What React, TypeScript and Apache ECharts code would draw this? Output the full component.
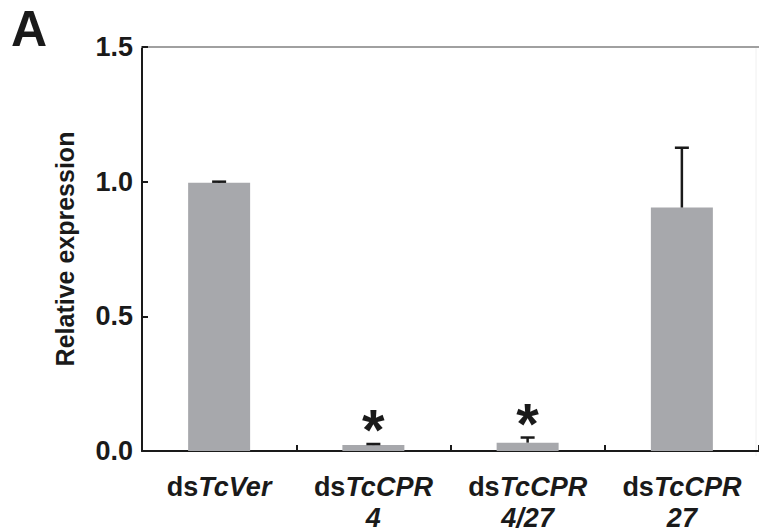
import React, { useEffect, useRef } from "react";
import * as echarts from "echarts";

const genes = ["TcVer", "TcCPR", "TcCPR", "TcCPR"];
const suffixes = ["", "4", "4/27", "27"];
const categories = genes.map((g, i) => "ds" + g + (suffixes[i] ? " " + suffixes[i] : ""));
const means = [0.996, 0.022, 0.031, 0.904];
const errors = [0.004, 0.004, 0.019, 0.222];
const significance = ["", "*", "*", ""];
const yTicks = [0, 0.5, 1.0, 1.5];

const FONT = "'Liberation Sans', Arial, Helvetica, sans-serif";

export default function App() {
  const ref = useRef<HTMLDivElement>(null);
  useEffect(() => {
    if (!ref.current) return;
    const chart = echarts.init(ref.current, null, { renderer: "svg" });
    chart.setOption({
      animation: false,
      backgroundColor: "#ffffff",
      textStyle: { fontFamily: FONT },
      grid: { left: 142, right: -4, top: 47, bottom: 74, containLabel: false },
      graphic: [
        {
          type: "text",
          style: {
            text: "A",
            x: 11,
            y: 29,
            verticalAlign: "middle",
            font: `bold 50px ${FONT}`,
            fill: "#1a1a1a",
          },
        },
        {
          type: "line",
          shape: { x1: 756, y1: 48, x2: 756, y2: 456 },
          style: { stroke: "#f0f0f0", lineWidth: 1 },
        },
      ],
      xAxis: [
        {
          type: "category",
          data: categories,
          position: "bottom",
          axisLine: { show: true, lineStyle: { color: "#1a1a1a", width: 2 } },
          axisTick: { show: true, inside: true, length: 6, lineStyle: { color: "#1a1a1a", width: 2 } },
          axisLabel: {
            interval: 0,
            margin: 20,
            formatter: (_v: string, i: number) =>
              `{n|ds}{it|${genes[i]}}` + (suffixes[i] ? `\n{it|${suffixes[i]}}` : ""),
            rich: {
              n: { fontFamily: FONT, fontWeight: "bold", fontSize: 27, color: "#1a1a1a", lineHeight: 31 },
              it: { fontFamily: FONT, fontWeight: "bold", fontStyle: "italic", fontSize: 27, color: "#1a1a1a", lineHeight: 31 },
            },
          },
          splitLine: { show: false },
        },
        {
          type: "category",
          data: categories,
          position: "top",
          axisLine: { show: true, lineStyle: { color: "#a0a0a0", width: 2 } },
          axisTick: { show: false },
          axisLabel: { show: false },
          splitLine: { show: false },
        },
      ],
      yAxis: {
        type: "value",
        min: yTicks[0],
        max: yTicks[yTicks.length - 1],
        interval: 0.5,
        name: "Relative expression",
        nameLocation: "middle",
        nameGap: 65,
        nameTextStyle: { fontFamily: FONT, fontWeight: "bold", fontSize: 25, color: "#1a1a1a" },
        axisLine: { show: true, lineStyle: { color: "#1a1a1a", width: 2 } },
        axisTick: { show: true, inside: true, length: 6, lineStyle: { color: "#1a1a1a", width: 2 } },
        axisLabel: {
          margin: 9,
          formatter: (v: number) => v.toFixed(1),
          fontFamily: FONT,
          fontWeight: "bold",
          fontSize: 27,
          color: "#1a1a1a",
        },
        splitLine: { show: false },
      },
      series: [
        {
          type: "bar",
          data: means,
          barWidth: 62,
          itemStyle: { color: "#a7a8ac" },
          z: 2,
        },
        {
          type: "custom",
          z: 5,
          data: means.map((m, i) => [i, m, errors[i]]),
          renderItem: (_params: any, api: any) => {
            const i = api.value(0);
            const m = api.value(1);
            const e = api.value(2);
            const base = api.coord([i, m]);
            const top = api.coord([i, m + e]);
            const children: any[] = [
              {
                type: "line",
                shape: { x1: top[0], y1: base[1], x2: top[0], y2: top[1] },
                style: { stroke: "#1a1a1a", lineWidth: 2.5 },
              },
              {
                type: "line",
                shape: { x1: top[0] - 7, y1: top[1], x2: top[0] + 7, y2: top[1] },
                style: { stroke: "#1a1a1a", lineWidth: 2.5 },
              },
            ];
            if (significance[i]) {
              children.push({
                type: "text",
                style: {
                  text: significance[i],
                  x: top[0],
                  y: top[1] + 15,
                  align: "center",
                  verticalAlign: "bottom",
                  font: `bold 58px ${FONT}`,
                  fill: "#1a1a1a",
                },
              });
            }
            return { type: "group", children };
          },
        },
      ],
    });
    return () => chart.dispose();
  }, []);
  return (
    <div
      ref={ref}
      style={{ position: "fixed", left: 0, top: 0, width: 759, height: 531, background: "#fff" }}
    />
  );
}
